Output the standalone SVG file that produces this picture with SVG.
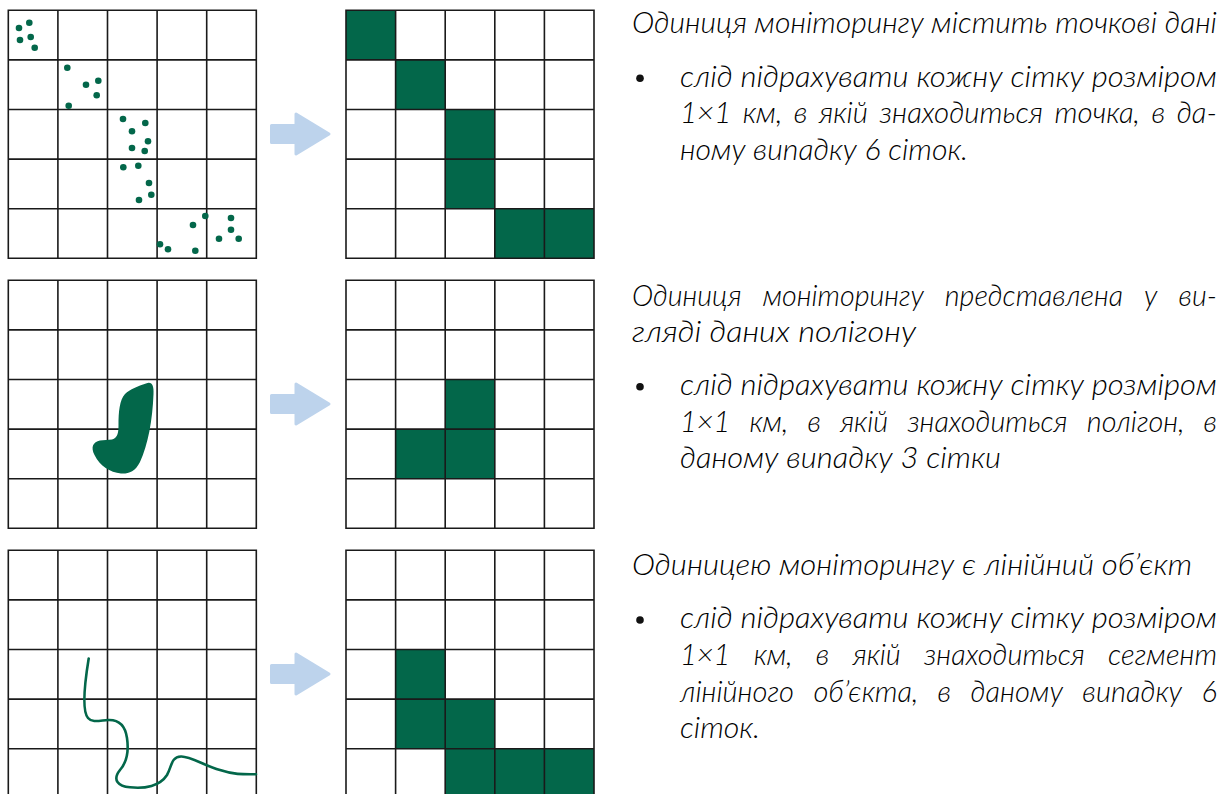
<svg xmlns="http://www.w3.org/2000/svg" width="1231" height="794" viewBox="0 0 1231 794">
<style>
.grid{fill:none;stroke:#1a1a1a;stroke-width:1.6}
.cell{fill:#03674A}
.dot{fill:#03674A}
.arrow{fill:#BDD3EC;stroke:#BDD3EC;stroke-width:3;stroke-linejoin:round}
.t{font-family:Lato,"Open Sans","Noto Sans",sans-serif;font-style:italic;font-weight:300;font-size:29px;fill:#000}
.bul{fill:#111}
</style>
<defs>
<path id="gridlines" class="grid" d="M0,0H248V248H0Z M49.6,0V248 M99.2,0V248 M148.8,0V248 M198.4,0V248 M0,49.6H248 M0,99.2H248 M0,148.8H248 M0,198.4H248"/>
<path id="arr" class="arrow" d="M271.5,-8.5 H296 V-20 L329,0 L296,20 V8.5 H271.5 Z"/>
</defs>
<rect width="1231" height="794" fill="#fff"/>

<g id="row1-source">
<use href="#gridlines" x="8.3" y="10.3"/>
<g class="dot">
<circle cx="19" cy="28" r="3.3"/><circle cx="29.3" cy="22.7" r="3.3"/><circle cx="20" cy="40" r="3.3"/><circle cx="30.7" cy="37" r="3.3"/><circle cx="34.7" cy="47.7" r="3.3"/>
<circle cx="67.3" cy="67.7" r="3.3"/><circle cx="86" cy="84.7" r="3.3"/><circle cx="98.3" cy="80.7" r="3.3"/><circle cx="96.7" cy="95.3" r="3.3"/><circle cx="68.7" cy="105.7" r="3.3"/>
<circle cx="123" cy="119" r="3.3"/><circle cx="145.3" cy="123" r="3.3"/><circle cx="132" cy="131.3" r="3.3"/><circle cx="148" cy="141.3" r="3.3"/><circle cx="132" cy="148" r="3.3"/><circle cx="144.7" cy="151" r="3.3"/>
<circle cx="123.3" cy="167.3" r="3.3"/><circle cx="138.3" cy="165.7" r="3.3"/><circle cx="149" cy="183" r="3.3"/><circle cx="151.3" cy="194.7" r="3.3"/><circle cx="139" cy="200" r="3.3"/>
<circle cx="205.3" cy="216" r="3.3"/><circle cx="193" cy="225" r="3.3"/><circle cx="231" cy="218" r="3.3"/><circle cx="231" cy="229.7" r="3.3"/><circle cx="219" cy="238.7" r="3.3"/><circle cx="238.7" cy="238.7" r="3.3"/><circle cx="160" cy="244.3" r="3.3"/><circle cx="168" cy="249.3" r="3.3"/><circle cx="195.3" cy="250.7" r="3.3"/>
</g>
</g>

<g id="row1-result" transform="translate(346,10.3)">
<rect class="cell" x="0" y="0" width="49.6" height="49.6"/>
<rect class="cell" x="49.6" y="49.6" width="49.6" height="49.6"/>
<rect class="cell" x="99.2" y="99.2" width="49.6" height="49.6"/>
<rect class="cell" x="99.2" y="148.8" width="49.6" height="49.6"/>
<rect class="cell" x="148.8" y="198.4" width="49.6" height="49.6"/>
<rect class="cell" x="198.4" y="198.4" width="49.6" height="49.6"/>
<use href="#gridlines"/>
</g>

<g id="row2-source">
<use href="#gridlines" x="8.3" y="280.3"/>
<path class="cell" d="M146,383.5 C152,381 154,386 153.5,394 C152.5,420 148,445 140,462 C135,472 128,474 121,473.5 C110,472.5 100,466 94.5,455 C90.5,447 93,442 100,440.5 L112,439.5 C118,438 118.5,432 118.5,425 C118.5,412 119.5,400 125,394 C130,389.5 138,386 146,383.5 Z"/>
</g>

<g id="row2-result" transform="translate(346,280.3)">
<rect class="cell" x="99.2" y="99.2" width="49.6" height="49.6"/>
<rect class="cell" x="49.6" y="148.8" width="49.6" height="49.6"/>
<rect class="cell" x="99.2" y="148.8" width="49.6" height="49.6"/>
<use href="#gridlines"/>
</g>

<g id="row3-source">
<use href="#gridlines" x="8.3" y="550.3"/>
<path fill="none" stroke="#03674A" stroke-width="2.6" stroke-linecap="round" d="M88.7,658.5 C86,675 81,710 88,718 C92,723 100,720.5 108,720 C118,719.5 125,724 127,738 C129,752 127,762 120,770 C112,780 118,786 130,787.3 C145,789 160,786 167,775 C172,766 171,757 181,756.5 C190,756 205,766 220,770 C235,775 245,774.3 256,774.3"/>
</g>

<g id="row3-result" transform="translate(346,550.3)">
<rect class="cell" x="49.6" y="99.2" width="49.6" height="49.6"/>
<rect class="cell" x="49.6" y="148.8" width="49.6" height="49.6"/>
<rect class="cell" x="99.2" y="148.8" width="49.6" height="49.6"/>
<rect class="cell" x="99.2" y="198.4" width="49.6" height="49.6"/>
<rect class="cell" x="148.8" y="198.4" width="49.6" height="49.6"/>
<rect class="cell" x="198.4" y="198.4" width="49.6" height="49.6"/>
<use href="#gridlines"/>
</g>

<g id="connectors">
<use href="#arr" y="134"/>
<use href="#arr" y="404"/>
<use href="#arr" y="674"/>
</g>

<g id="text1" class="t">
<text x="632" y="33" textLength="585" lengthAdjust="spacingAndGlyphs">Одиниця моніторингу містить точкові дані</text>
<circle class="bul" cx="640" cy="78.3" r="3.8"/>
<text x="680" y="87" textLength="537" lengthAdjust="spacingAndGlyphs">слід підрахувати кожну сітку розміром</text>
<text x="680" y="123.3" textLength="537" lengthAdjust="spacingAndGlyphs">1×1 <tspan dx="4">км,</tspan> <tspan dx="4">в</tspan> <tspan dx="4">якій</tspan> <tspan dx="4">знаходиться</tspan> <tspan dx="4">точка,</tspan> <tspan dx="4">в</tspan> <tspan dx="4">да-</tspan></text>
<text x="680" y="160" textLength="288" lengthAdjust="spacingAndGlyphs">ному випадку 6 сіток.</text>
</g>

<g id="text2" class="t">
<text x="632" y="306" textLength="585" lengthAdjust="spacingAndGlyphs">Одиниця <tspan dx="14">моніторингу</tspan> <tspan dx="14">представлена</tspan> <tspan dx="14">у</tspan> <tspan dx="14">ви-</tspan></text>
<text x="632" y="342" textLength="284" lengthAdjust="spacingAndGlyphs">гляді даних полігону</text>
<circle class="bul" cx="640" cy="386.7" r="3.8"/>
<text x="680" y="395.3" textLength="537" lengthAdjust="spacingAndGlyphs">слід підрахувати кожну сітку розміром</text>
<text x="680" y="431.7" textLength="537" lengthAdjust="spacingAndGlyphs">1×1 <tspan dx="12">км,</tspan> <tspan dx="12">в</tspan> <tspan dx="12">якій</tspan> <tspan dx="12">знаходиться</tspan> <tspan dx="12">полігон,</tspan> <tspan dx="12">в</tspan></text>
<text x="680" y="468" textLength="321" lengthAdjust="spacingAndGlyphs">даному випадку 3 сітки</text>
</g>

<g id="text3" class="t">
<text x="632" y="575" textLength="560" lengthAdjust="spacingAndGlyphs">Одиницею моніторингу є лінійний об’єкт</text>
<circle class="bul" cx="640" cy="620" r="3.8"/>
<text x="680" y="628" textLength="537" lengthAdjust="spacingAndGlyphs">слід підрахувати кожну сітку розміром</text>
<text x="680" y="664.5" textLength="537" lengthAdjust="spacingAndGlyphs">1×1 <tspan dx="16">км,</tspan> <tspan dx="16">в</tspan> <tspan dx="16">якій</tspan> <tspan dx="16">знаходиться</tspan> <tspan dx="16">сегмент</tspan></text>
<text x="680" y="701.5" textLength="537" lengthAdjust="spacingAndGlyphs">лінійного <tspan dx="12">об’єкта,</tspan> <tspan dx="12">в</tspan> <tspan dx="12">даному</tspan> <tspan dx="12">випадку</tspan> <tspan dx="12">6</tspan></text>
<text x="680" y="738" textLength="80" lengthAdjust="spacingAndGlyphs">сіток.</text>
</g>
</svg>
